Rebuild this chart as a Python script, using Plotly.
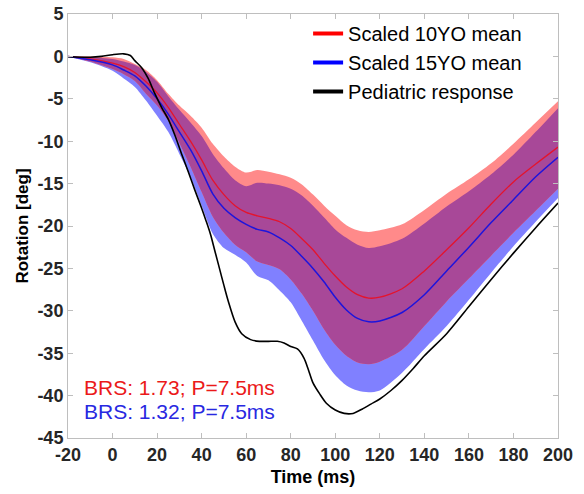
import numpy as np
import plotly.graph_objects as go

# ---- data ----
time_ms = [-20, -10, 0, 5, 10, 15, 20, 25, 30, 35, 40, 45, 50, 55, 60, 65, 70, 75, 80,
           85, 90, 95, 100, 105, 110, 115, 120, 130, 140, 150, 160, 170, 180, 190, 200]

mean_10yo = [0.0, -0.3, -0.8, -1.2, -1.9, -3.0, -4.3, -6.0, -8.0, -10.0, -12.2, -14.6, -16.3,
             -17.6, -18.4, -18.8, -19.1, -19.5, -20.3, -21.5, -22.8, -24.4, -25.9, -27.2,
             -28.1, -28.5, -28.4, -27.4, -25.3, -22.8, -20.2, -17.4, -14.8, -12.7, -10.7]
upper_10yo = [0.0, 0.0, -0.1, -0.3, -0.9, -1.6, -2.8, -4.4, -5.8, -7.0, -8.4, -10.3, -11.8,
              -13.0, -13.7, -13.4, -13.6, -13.9, -14.3, -15.1, -16.3, -17.6, -18.8, -19.9,
              -20.5, -20.7, -20.5, -19.8, -18.1, -16.2, -14.5, -12.6, -10.3, -7.8, -5.3]
lower_10yo = [0.0, -0.6, -1.5, -2.1, -2.9, -4.4, -5.8, -7.6, -10.2, -13.0, -16.0, -18.9, -20.8,
              -22.2, -23.1, -24.2, -24.6, -25.1, -26.3, -28.0, -30.0, -32.2, -34.0, -35.3,
              -36.1, -36.3, -36.0, -34.6, -31.8, -28.9, -26.2, -23.5, -20.8, -18.2, -15.6]

mean_15yo = [0.0, -0.4, -1.0, -1.6, -2.3, -3.5, -5.0, -6.8, -8.9, -11.0, -13.5, -16.2, -17.9,
             -19.0, -19.8, -20.4, -20.7, -21.4, -22.3, -23.6, -25.0, -26.6, -28.4, -29.9,
             -30.9, -31.3, -31.2, -30.2, -28.1, -25.3, -22.5, -19.6, -16.9, -14.2, -11.9]
upper_15yo = [0.0, -0.1, -0.3, -0.6, -1.0, -1.8, -3.0, -4.7, -6.3, -7.8, -9.4, -11.5, -13.2,
              -14.6, -15.3, -14.9, -15.0, -15.2, -15.6, -16.4, -17.6, -19.0, -20.4, -21.4,
              -22.2, -22.6, -22.4, -21.5, -19.7, -17.7, -15.9, -13.9, -11.6, -8.9, -6.1]
lower_15yo = [0.0, -0.7, -1.7, -2.6, -3.6, -5.2, -7.0, -8.9, -11.5, -14.2, -17.6, -20.9, -22.6,
              -23.4, -24.3, -25.9, -26.4, -27.6, -29.0, -31.2, -33.5, -35.8, -37.6, -38.8,
              -39.4, -39.6, -39.4, -37.3, -34.5, -31.8, -28.7, -25.5, -22.4, -19.5, -16.7]

ped_time = [-20, -10, -5, 0, 5, 8, 10, 13, 16, 19, 22, 25, 28, 31, 34, 37, 40, 42, 44, 46, 48,
            50, 52, 55, 58, 62, 66, 70, 74, 77, 80, 83, 86, 88, 90, 93, 96, 100, 104, 108,
            112, 116, 120, 125, 130, 135, 140, 150, 160, 170, 180, 190, 200]
ped_resp = [-0.05, -0.1, 0.0, 0.2, 0.3, 0.1, -0.5, -1.3, -2.6, -4.4, -6.0, -7.4, -9.3, -11.5,
            -13.6, -15.8, -17.9, -19.4, -21.0, -23.0, -25.0, -27.0, -28.9, -31.3, -32.7, -33.4,
            -33.6, -33.6, -33.6, -33.8, -34.2, -34.5, -35.6, -37.0, -38.5, -39.8, -40.9, -41.7,
            -42.1, -42.1, -41.6, -41.0, -40.4, -39.4, -38.2, -36.8, -35.3, -32.7, -29.5, -26.3,
            -23.2, -20.2, -17.3]

x_ticks = [-20, 0, 20, 40, 60, 80, 100, 120, 140, 160, 180, 200]
y_ticks = [5, 0, -5, -10, -15, -20, -25, -30, -35, -40, -45]

# ---- styles ----
FONT = "Liberation Sans, Arial, sans-serif"
PINK = "rgb(255,138,138)"
LBLUE = "rgb(128,128,255)"
PURPLE = "rgb(168,72,152)"
RED = "rgb(228,20,45)"
BLUE = "rgb(30,20,220)"

ov_upper = np.minimum(upper_10yo, upper_15yo)
ov_lower = np.maximum(lower_10yo, lower_15yo)

fig = go.Figure()

def band(x, up, lo, color):
    fig.add_trace(go.Scatter(x=x, y=up, mode="lines", line=dict(width=0, shape="spline", smoothing=0.8),
                             showlegend=False, hoverinfo="skip"))
    fig.add_trace(go.Scatter(x=x, y=lo, mode="lines", line=dict(width=0, shape="spline", smoothing=0.8),
                             fill="tonexty", fillcolor=color, showlegend=False, hoverinfo="skip"))

band(time_ms, upper_15yo, lower_15yo, LBLUE)
band(time_ms, upper_10yo, lower_10yo, PINK)
band(time_ms, ov_upper, ov_lower, PURPLE)

fig.add_trace(go.Scatter(x=time_ms, y=mean_10yo, mode="lines",
                         line=dict(color=RED, width=1.3, shape="spline", smoothing=0.8), showlegend=False))
fig.add_trace(go.Scatter(x=time_ms, y=mean_15yo, mode="lines",
                         line=dict(color=BLUE, width=1.5, shape="spline", smoothing=0.8), showlegend=False))
fig.add_trace(go.Scatter(x=ped_time, y=ped_resp, mode="lines",
                         line=dict(color="black", width=1.6, shape="spline", smoothing=0.8), showlegend=False))

# legend entries
for name, col in [("Scaled 10YO mean", "rgb(255,0,0)"), ("Scaled 15YO mean", "rgb(0,0,255)"),
                  ("Pediatric response", "black")]:
    fig.add_trace(go.Scatter(x=[None], y=[None], mode="lines", name=name,
                             line=dict(color=col, width=4)))

fig.add_annotation(x=0.028, y=-39.0, xref="paper", yref="y", text="BRS: 1.73; P=7.5ms",
                   showarrow=False, xanchor="left", font=dict(family=FONT, color="rgb(235,25,25)", size=21))
fig.add_annotation(x=0.028, y=-41.9, xref="paper", yref="y", text="BRS: 1.32; P=7.5ms",
                   showarrow=False, xanchor="left", font=dict(family=FONT, color="rgb(40,40,225)", size=21))

axis_common = dict(showline=True, linecolor="rgb(190,190,190)", linewidth=1, mirror="ticks",
                   ticks="inside", ticklen=5, tickcolor="rgb(190,190,190)", showgrid=False,
                   zeroline=False,
                   tickfont=dict(family=FONT, size=18, color="rgb(38,38,38)", weight="bold"))

fig.update_xaxes(range=[-20, 200], tickvals=x_ticks, ticktext=[str(v) for v in x_ticks],
                 title=dict(text="Time (ms)", font=dict(family=FONT, size=18,
                                                        color="black", weight="bold"), standoff=6),
                 **axis_common)
fig.update_yaxes(range=[-45, 5], tickvals=y_ticks, ticktext=[str(v) for v in y_ticks],
                 title=dict(text="Rotation [deg]", font=dict(family=FONT, size=17,
                                                             color="black", weight="bold"), standoff=4),
                 **axis_common)

fig.update_layout(
    width=584, height=494,
    margin=dict(l=68, r=26, t=14, b=56, autoexpand=False),
    font=dict(family=FONT),
    plot_bgcolor="white", paper_bgcolor="white",
    legend=dict(x=0.49, y=1.0, xanchor="left", yanchor="top", bgcolor="rgba(255,255,255,0)",
                font=dict(family=FONT, size=20, color="black"), traceorder="normal",
                tracegroupgap=0, itemwidth=30),
)

fig.write_html("out.html")
